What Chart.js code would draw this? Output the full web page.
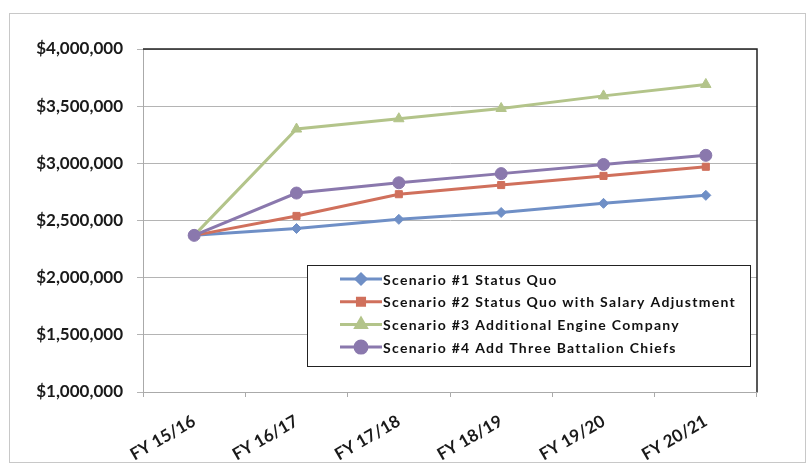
<!DOCTYPE html>
<html>
<head>
<meta charset="utf-8">
<script src="https://cdn.jsdelivr.net/npm/chart.js@4/dist/chart.umd.min.js"></script>
<style>
  body { margin: 0; background: #fff; }
  #wrap { position: relative; width: 811px; height: 471px; }
  #frame { position: absolute; left: 9px; top: 13px; width: 795px; height: 448px; border: 1px solid #c8c8c8; }
  canvas { position: absolute; left: 0; top: 0; }
</style>
</head>
<body>
<div id="wrap">
  <div id="frame"></div>
  <canvas id="myChart" width="811" height="471"></canvas>
</div>
<script>
const years = ['FY 15/16', 'FY 16/17', 'FY 17/18', 'FY 18/19', 'FY 19/20', 'FY 20/21'];
const statusQuo = [2370000, 2430000, 2510000, 2570000, 2650000, 2720000];
const salaryAdj = [2370000, 2540000, 2730000, 2810000, 2890000, 2970000];
const engineCo = [2370000, 3300000, 3390000, 3480000, 3590000, 3690000];
const battalion = [2370000, 2740000, 2830000, 2910000, 2990000, 3070000];
const names = [
  'Scenario #1 Status Quo',
  'Scenario #2 Status Quo with Salary Adjustment',
  'Scenario #3 Additional Engine Company',
  'Scenario #4 Add Three Battalion Chiefs'
];
const colors = ['#6f8fc6', '#d0705c', '#b3c48a', '#8a78ad'];
const shapes = ['rectRot', 'rect', 'triangle', 'circle'];
const sizes = [5, 5, 6, 6];

const fontName = 'Lato, "Open Sans", sans-serif';

function money(v) {
  return '$' + v.toLocaleString('en-US');
}

// legend sits inside the plot like in the excel chart
const insideLegend = {
  id: 'insideLegend',
  afterDraw(chart) {
    let ctx = chart.ctx;
    let x0 = 307, y0 = 265, w = 443, h = 101;
    ctx.save();
    ctx.fillStyle = '#fff';
    ctx.fillRect(x0, y0, w, h);
    ctx.strokeStyle = '#222';
    ctx.lineWidth = 1;
    ctx.strokeRect(x0 + 0.5, y0 + 0.5, w, h);
    ctx.font = 'bold 14px ' + fontName;
    ctx.letterSpacing = '1.3px';
    ctx.textBaseline = 'middle';
    for (let i = 0; i < names.length; i++) {
      let y = y0 + 14 + i * 22.7;
      ctx.strokeStyle = colors[i];
      ctx.lineWidth = 3;
      ctx.beginPath();
      ctx.moveTo(x0 + 33, y);
      ctx.lineTo(x0 + 75, y);
      ctx.stroke();
      ctx.fillStyle = colors[i];
      Chart.helpers.drawPoint(ctx, {pointStyle: shapes[i], radius: sizes[i], borderWidth: 1}, x0 + 54, y);
      ctx.fillStyle = '#111';
      ctx.fillText(names[i], x0 + 76, y + 1);
    }
    ctx.restore();
  },
  beforeDatasetsDraw(chart) {
    let a = chart.chartArea;
    let ctx = chart.ctx;
    ctx.save();
    ctx.strokeStyle = '#222';
    ctx.lineWidth = 1.5;
    ctx.beginPath();
    ctx.moveTo(a.left, a.top);
    ctx.lineTo(a.right, a.top);
    ctx.lineTo(a.right, a.bottom);
    ctx.stroke();
    ctx.restore();
  }
};

const allSeries = [statusQuo, salaryAdj, engineCo, battalion];

let ctx = document.getElementById('myChart').getContext('2d');
let myChart = new Chart(ctx, {
  type: 'line',
  data: {
    labels: years,
    datasets: allSeries.map((d, i) => ({
      label: names[i],
      data: d,
      borderColor: colors[i],
      backgroundColor: colors[i],
      borderWidth: 3,
      pointStyle: shapes[i],
      pointRadius: sizes[i],
      pointBorderWidth: 1,
      tension: 0,
      order: 3 - i
    }))
  },
  options: {
    responsive: false,
    animation: false,
    layout: { padding: { top: 49, right: 54, left: 0, bottom: 0 } },
    plugins: {
      legend: { display: false },
      tooltip: { enabled: false }
    },
    scales: {
      x: {
        offset: true,
        afterFit: function (scale) { scale.height = 79; },
        grid: {
          offset: true,
          drawOnChartArea: false,
          drawTicks: true,
          tickLength: 5,
          color: '#aaa'
        },
        border: { color: '#aaa', width: 1 },
        ticks: {
          minRotation: 30,
          maxRotation: 30,
          color: '#1a1a1a',
          padding: 14,
          font: { family: fontName, size: 17, weight: 'bold' }
        }
      },
      y: {
        min: 1000000,
        max: 4000000,
        afterFit: function (scale) { scale.width = 143; },
        grid: {
          color: '#b4b4b4',
          tickLength: 6
        },
        border: { color: '#aaa', width: 1 },
        ticks: {
          stepSize: 500000,
          color: '#1a1a1a',
          padding: 14,
          font: { family: fontName, size: 17, weight: 'bold' },
          callback: function (v) { return money(v); }
        }
      }
    }
  },
  plugins: [insideLegend]
});
</script>
</body>
</html>
